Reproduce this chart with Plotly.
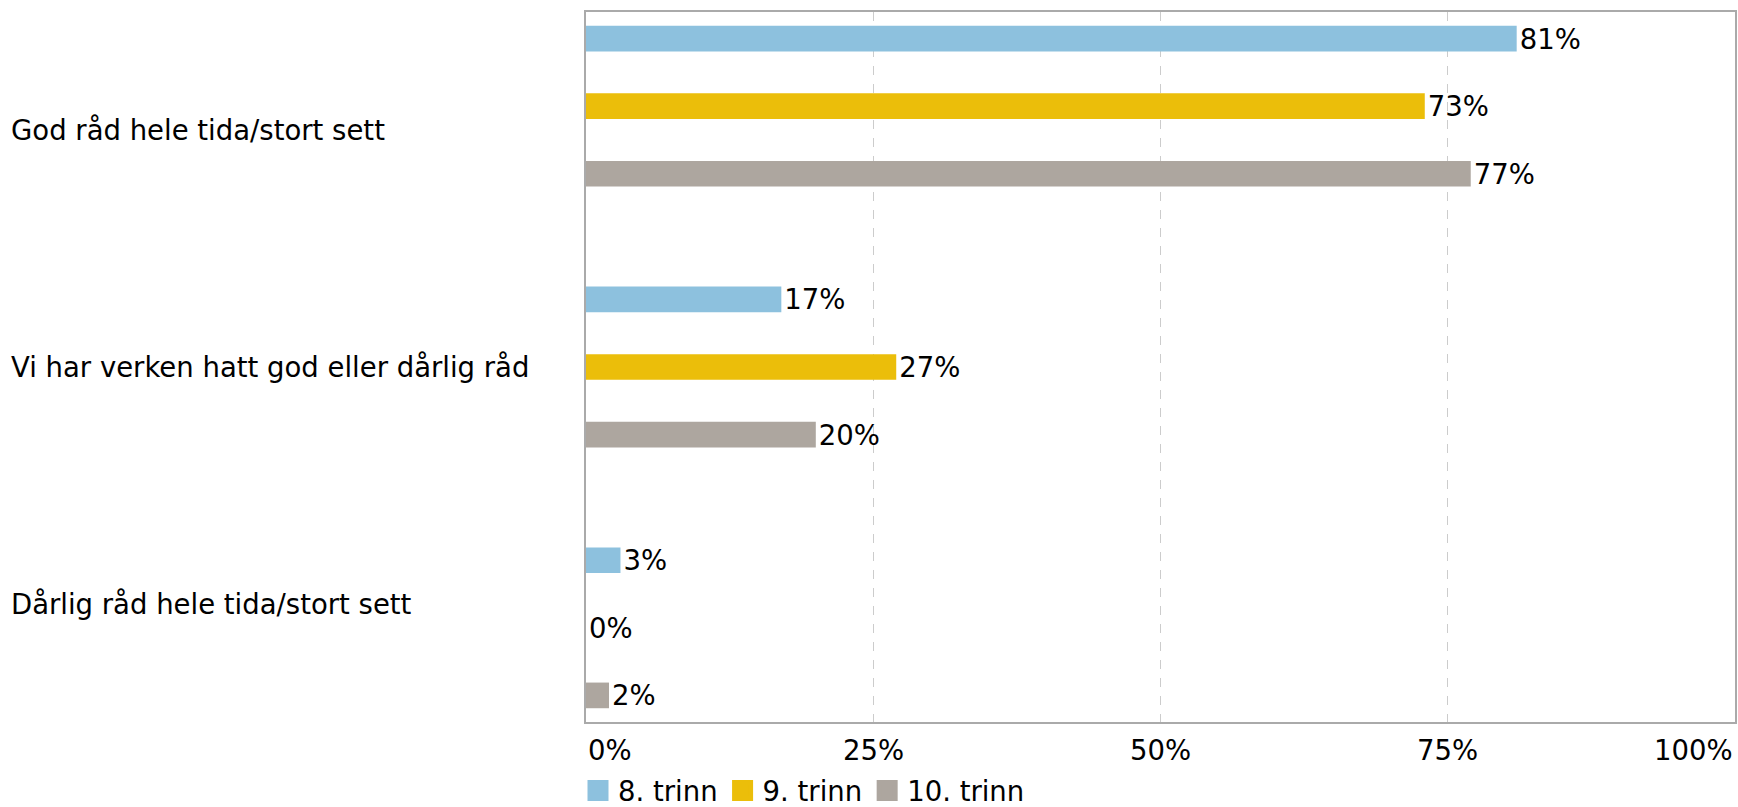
import plotly.graph_objects as go

categories = ["God råd hele tida/stort sett",
              "Vi har verken hatt god eller dårlig råd",
              "Dårlig råd hele tida/stort sett"]
series_names = ["8. trinn", "9. trinn", "10. trinn"]
trinn8 = [81, 17, 3]
trinn9 = [73, 27, 0]
trinn10 = [77, 20, 2]
x_ticks = [0, 25, 50, 75, 100]
x_tick_labels = ["0%", "25%", "50%", "75%", "100%"]

colors = ["#8dc1de", "#ebbe0a", "#ada69f"]
FONT = "DejaVu Sans"
FS = 27.5
TXT = "#000000"

fig = go.Figure()
for name, vals, col in zip(series_names, [trinn8, trinn9, trinn10], colors):
    fig.add_trace(go.Bar(
        y=categories, x=vals, orientation="h", name=name,
        marker=dict(color=col, line=dict(width=0)),
        text=[f"{v}%" for v in vals], textposition="outside",
        constraintext="none",
        textfont=dict(family=FONT, size=FS, color=TXT),
        cliponaxis=False, showlegend=False,
    ))
    # legend swatch
    fig.add_trace(go.Scatter(
        x=[None], y=[None], mode="markers", name=name,
        marker=dict(symbol="square", size=16, color=col,
                    line=dict(width=5, color=col)),
        showlegend=True,
    ))

annotations = []
for i, c in enumerate(categories):
    annotations.append(dict(
        x=(9 - 586) / 1149, xref="paper", xanchor="left",
        y=i, yref="y2", yanchor="middle",
        text=c, showarrow=False,
        font=dict(family=FONT, size=FS, color=TXT),
    ))
for v, lab in zip(x_ticks, x_tick_labels):
    xa = "left" if v == x_ticks[0] else ("right" if v == x_ticks[-1] else "center")
    annotations.append(dict(
        x=v, xref="x", xanchor=xa,
        y=0, yref="paper", yanchor="middle", yshift=-28,
        text=lab, showarrow=False,
        font=dict(family=FONT, size=FS, color=TXT),
    ))

fig.update_layout(
    width=1738, height=807,
    margin=dict(l=586, r=3, t=12, b=85, autoexpand=False),
    paper_bgcolor="white", plot_bgcolor="white",
    barmode="group", bargap=0.223, bargroupgap=0.62,
    font=dict(family=FONT, size=FS, color=TXT),
    xaxis=dict(range=[0, 100], tickvals=x_ticks, showticklabels=False,
               showgrid=True, gridcolor="#cccccc", griddash="dash", gridwidth=1,
               showline=True, linecolor="#aaaaaa", linewidth=1.5, mirror=True,
               zeroline=False, ticks=""),
    yaxis=dict(type="category", categoryarray=categories, categoryorder="array",
               range=[2.361, -0.361], showticklabels=False,
               showline=True, linecolor="#aaaaaa", linewidth=1.5, mirror=True,
               showgrid=False, ticks=""),
    yaxis2=dict(overlaying="y", range=[2.5, -0.5], visible=False),
    legend=dict(orientation="h", x=(578 - 586) / 1149, xanchor="left",
                y=-(85 + 8) / 710, yanchor="bottom", traceorder="normal",
                font=dict(family=FONT, size=FS, color=TXT),
                entrywidth=0, itemsizing="trace", bgcolor="rgba(0,0,0,0)"),
    annotations=annotations,
    showlegend=True,
)

fig.write_html("out.html", config={"displayModeBar": False},
               post_script="document.body.style.margin='0';document.body.style.overflow='hidden';")
